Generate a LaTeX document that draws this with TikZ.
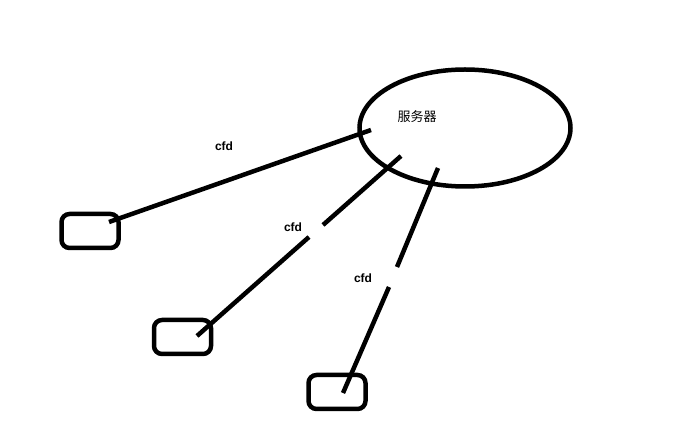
\documentclass[tikz,border=0pt]{standalone}
\usepackage{fontspec}
\setmainfont{Liberation Sans}
\newfontfamily\cjkfont{Noto Sans CJK SC}
\usetikzlibrary{shapes.geometric}
\tikzset{
    link/.style={line width=4.5pt},
    client/.style={draw,line width=4.5pt,rounded corners=8pt,
        minimum width=57pt,minimum height=34pt,inner sep=0pt},
    lbl/.style={font=\bfseries\fontsize{12}{12}\selectfont,inner sep=0pt}
}

\begin{document}
\begin{tikzpicture}[x=1pt,y=-1pt]
\useasboundingbox (0,0) rectangle (673,443);
\node[draw,ellipse,line width=4.5pt,minimum width=211pt,minimum height=117pt,inner sep=0pt] (server) at (465,128) {};
\node[font=\cjkfont\fontsize{13}{13}\selectfont,inner sep=0pt] (name) at (417,117) {服务器};
\node[client] (client1) at (90,231) {};
\node[client] (client2) at (182.5,337) {};
\node[client] (client3) at (337,392) {};
% line ends
\coordinate (s1) at (371,130);
\coordinate (c1) at (109,222);
\coordinate (s2) at (401,156);
\coordinate (g2a) at (323,225);
\coordinate (g2b) at (309,237);
\coordinate (c2) at (197,336);
\coordinate (s3) at (438,168);
\coordinate (g3a) at (397,267);
\coordinate (g3b) at (389,287);
\coordinate (c3) at (343,393);
\draw[link] (s1) -- (c1);
\draw[link] (s2) -- (g2a) (g2b) -- (c2);
\draw[link] (s3) -- (g3a) (g3b) -- (c3);
\node[lbl] (cfd1) at (224,146) {cfd};
\node[lbl] (cfd2) at (293,227) {cfd};
\node[lbl] (cfd3) at (363,278) {cfd};
\end{tikzpicture}
\end{document}
